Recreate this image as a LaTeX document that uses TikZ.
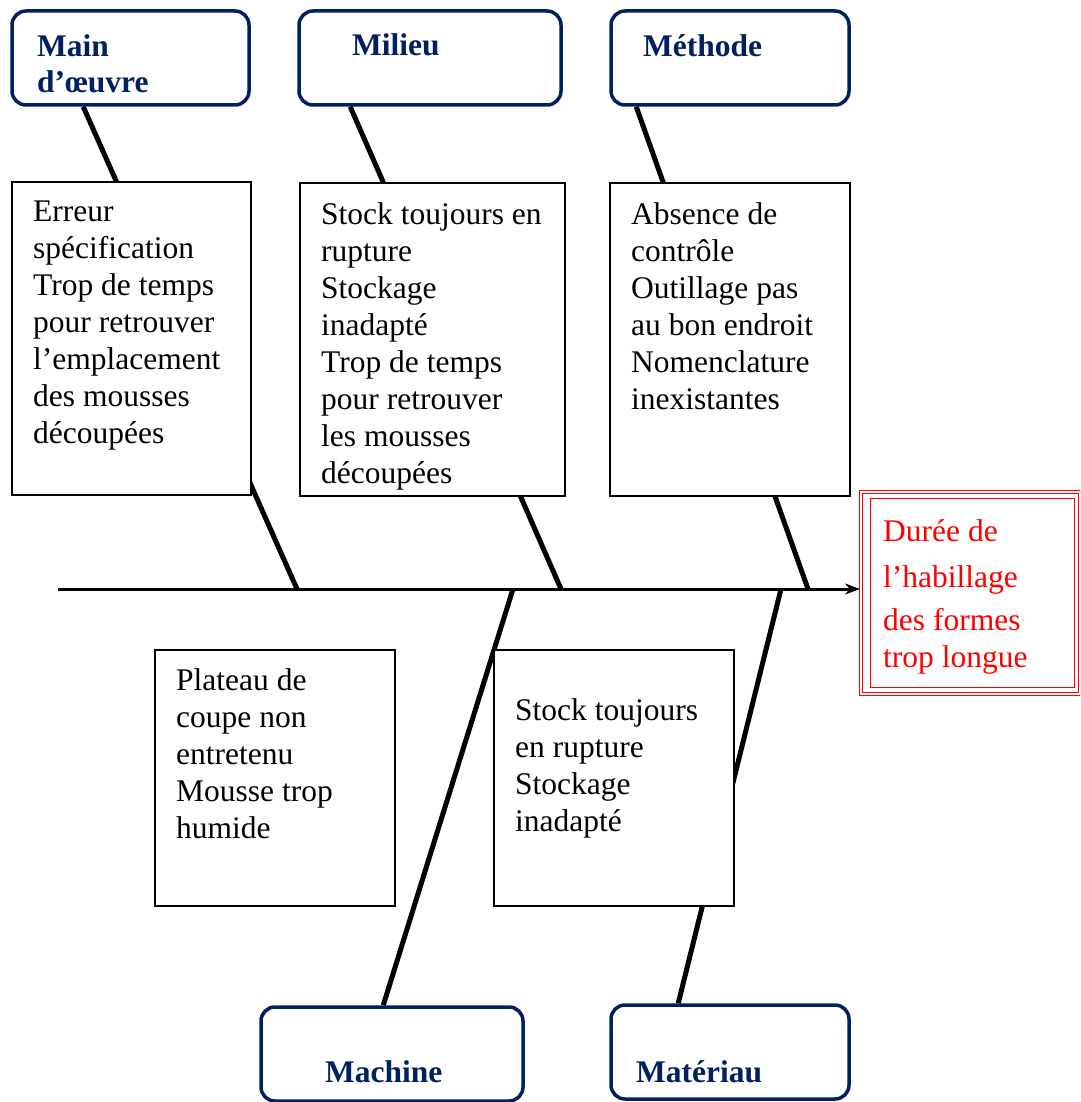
\documentclass[tikz,border=0pt]{standalone}
\usepackage{fontspec}
\setmainfont{Liberation Serif}
\usetikzlibrary{arrows.meta,backgrounds}
\definecolor{navy}{RGB}{0,32,96}
\newcommand{\catfont}{\fontsize{31.5}{36}\selectfont\bfseries}
\newcommand{\txtfont}{\fontsize{31.5}{37}\selectfont}

\begin{document}
\begin{tikzpicture}[x=1pt, y=-1pt,
        cat/.style={rectangle, draw=navy, line width=3.5pt, rounded corners=14pt, fill=white, minimum height=94pt, inner sep=0pt},
        catlbl/.style={font=\catfont, text=navy, inner sep=0pt, align=left},
        cause/.style={rectangle, draw=black, line width=1.8pt, fill=white, inner sep=0pt},
        txt/.style={font=\txtfont, inner sep=0pt, align=left},
        effet/.style={rectangle, draw=red, line width=1pt, double=white, double distance=2pt, fill=white, inner sep=0pt},
        bone/.style={line width=5pt},
        spine/.style={-{Stealth[length=15pt, width=11pt]}, line width=3pt}
    ]
        \useasboundingbox (0,0) rectangle (1080,1102);
        \clip (0,0) rectangle (1080,1102);

        % categories du haut
        \node[cat, minimum width=237pt] (main) at (130.5, 58) {};
        \node[cat, minimum width=262pt] (milieu) at (430, 58) {};
        \node[cat, minimum width=238pt] (methode) at (730, 58) {};
        \node[catlbl, anchor=north west] (lmain) at (37, 34) {Main\\d’œuvre};
        \node[catlbl, anchor=base west] (lmilieu) at (352, 56) {Milieu};
        \node[catlbl, anchor=base west] (lmethode) at (643, 57) {Méthode};

        % categories du bas
        \node[cat, minimum width=262pt] (machine) at (392, 1054) {};
        \node[cat, minimum width=238pt] (materiau) at (730, 1052) {};
        \node[catlbl, anchor=base west] (lmachine) at (325, 1082) {Machine};
        \node[catlbl, anchor=base west] (lmateriau) at (636, 1082) {Matériau};

        % causes
        \node[cause, minimum width=239pt, minimum height=313pt] (c1) at (131.5, 338.5) {};
        \node[cause, minimum width=265pt, minimum height=313pt] (c2) at (432.5, 339.5) {};
        \node[cause, minimum width=240pt, minimum height=313pt] (c3) at (730, 339.5) {};
        \node[cause, minimum width=240pt, minimum height=256pt] (c4) at (275, 778) {};
        \node[cause, minimum width=240pt, minimum height=256pt] (c5) at (614, 778) {};
        \node[txt, anchor=north west] (t1) at (33, 201) {Erreur\\spécification\\Trop de temps\\pour retrouver\\l’emplacement\\des mousses\\découpées};
        \node[txt, anchor=north west] (t2) at (321, 202) {Stock toujours en\\rupture\\Stockage\\inadapté\\Trop de temps\\pour retrouver\\les mousses\\découpées};
        \node[txt, anchor=north west] (t3) at (631, 202) {Absence de\\contrôle\\Outillage pas\\au bon endroit\\Nomenclature\\inexistantes};
        \node[txt, anchor=north west] (t4) at (176, 668) {Plateau de\\coupe non\\entretenu\\Mousse trop\\humide};
        \node[txt, anchor=north west] (t5) at (515, 698) {Stock toujours\\en rupture\\Stockage\\inadapté};

        % effet
        \node[effet, minimum width=219pt, minimum height=202pt] (effet) at (970, 592.5) {};
        \draw[red, line width=1pt] ([shift={(10.5,7.5)}]effet.north west) rectangle ([shift={(-5.5,-6.5)}]effet.south east);
        \node[txt, text=red, anchor=north west] (teffet) at (883, 519) {Durée de\\[9pt]l’habillage\\[6pt]des formes\\trop longue};

        % arete centrale
        \coordinate (tail) at (58, 589);
        \coordinate (j1) at (297, 589);
        \coordinate (j2) at (561, 589);
        \coordinate (j3) at (808, 589);
        \coordinate (j4) at (513, 589);
        \coordinate (j5) at (781, 589);
        \draw[spine] (tail) -- (tail -| effet.west);

        \begin{pgfonlayer}{background}
            \draw[bone] ([xshift=73pt]main.south west) -- (j1);
            \draw[bone] ([xshift=53pt]milieu.south west) -- (j2);
            \draw[bone] ([xshift=27pt]methode.south west) -- (j3);
            \draw[bone] ([xshift=124pt]machine.north west) -- (j4);
            \draw[bone] ([xshift=69pt]materiau.north west) -- (j5);
        \end{pgfonlayer}
    \end{tikzpicture}
\end{document}
